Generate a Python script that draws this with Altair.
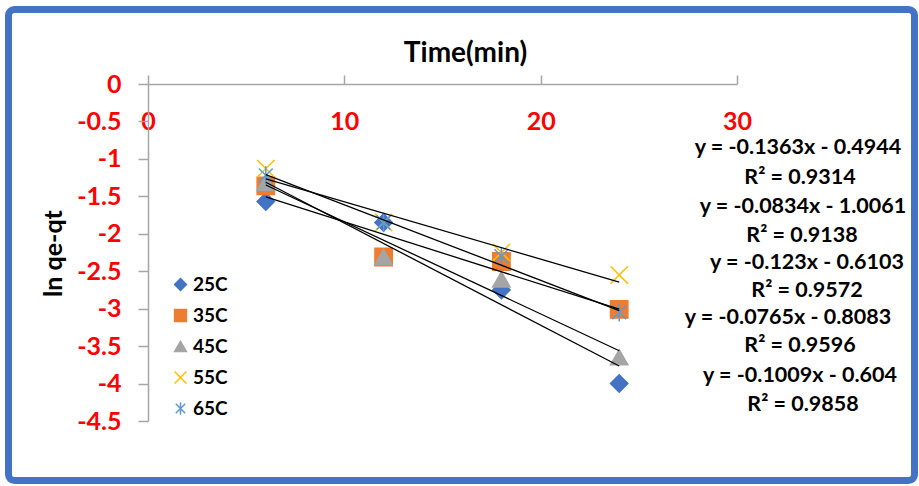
import altair as alt
import pandas as pd

# Sampling times (min) and ln(qe-qt) readings for each temperature
times = [6, 12, 18, 24]
series = ["25C", "35C", "45C", "55C", "65C"]
ln_25 = [-1.57, -1.85, -2.75, -4.00]
ln_35 = [-1.36, -2.31, -2.37, -3.01]
ln_45 = [-1.32, -2.31, -2.61, -3.65]
ln_55 = [-1.13, -1.85, -2.25, -2.55]
ln_65 = [-1.22, -1.85, -2.30, -3.05]

# Linear trendline coefficients and fit quality for each temperature
slopes = [-0.1363, -0.0834, -0.123, -0.0765, -0.1009]
intercepts = [-0.4944, -1.0061, -0.6103, -0.8083, -0.604]
r_squared = [0.9314, 0.9138, 0.9572, 0.9596, 0.9858]

x_ticks = [0, 10, 20, 30]
y_ticks = [0, -0.5, -1, -1.5, -2, -2.5, -3, -3.5, -4, -4.5]

fill_colors = ["#4472C4", "#ED7D31", "#A5A5A5", "transparent", "transparent"]
stroke_colors = ["#4472C4", "#ED7D31", "#A5A5A5", "#FFC000", "#5B9BD5"]
shapes = [
    "diamond",
    "square",
    "triangle-up",
    "M-1,-1L1,1M-1,1L1,-1",
    "M-0.8,-0.8L0.8,0.8M-0.8,0.8L0.8,-0.8M0,-1.05L0,1.05",
]

FONT = "Lato"
PLOT_LEFT, PLOT_TOP = 148, 84
W, H = 589, 337

points = pd.DataFrame(
    [
        {"series": s, "time": t, "lnq": v}
        for s, vals in zip(series, [ln_25, ln_35, ln_45, ln_55, ln_65])
        for t, v in zip(times, vals)
    ]
)

fits = pd.DataFrame(
    [
        {"series": s, "time": t, "slope": m, "intercept": b}
        for s, m, b in zip(series, slopes, intercepts)
        for t in (times[0], times[-1])
    ]
)

x_axis = alt.Axis(
    orient="top",
    values=x_ticks,
    title="Time(min)",
    titleFont=FONT,
    titleFontSize=28,
    titleFontWeight="bold",
    titleColor="black",
    titleX=317,
    titleY=-31,
    titleBaseline="middle",
    titleAlign="center",
    labelFont=FONT,
    labelFontSize=25,
    labelFontWeight="bold",
    labelColor="#FF0000",
    labelFlush=False,
    labelBaseline="middle",
    labelPadding=-46,
    labelExpr="'' + datum.value",
    tickSize=9,
    tickColor="#A6A6A6",
    tickWidth=1.5,
    domainColor="#A6A6A6",
    domainWidth=1.5,
    grid=False,
)

y_axis = alt.Axis(
    orient="left",
    values=y_ticks,
    title="ln qe-qt",
    titleFont=FONT,
    titleFontSize=25,
    titleFontWeight="bold",
    titleColor="black",
    titleAngle=270,
    titleX=-95,
    titleY=169,
    titleBaseline="middle",
    titleAlign="center",
    labelFont=FONT,
    labelFontSize=25,
    labelFontWeight="bold",
    labelColor="#FF0000",
    labelFlush=False,
    labelPadding=17,
    labelExpr="'' + datum.value",
    tickSize=10,
    tickColor="#A6A6A6",
    tickWidth=1.5,
    domainColor="#A6A6A6",
    domainWidth=1.5,
    grid=False,
)

x_enc = alt.X("time:Q", scale=alt.Scale(domain=[0, 30], nice=False, zero=False), axis=x_axis)

markers = alt.Chart(points).mark_point(size=300, strokeWidth=1.5, opacity=1).encode(
    x=x_enc,
    y=alt.Y("lnq:Q", scale=alt.Scale(domain=[-4.5, 0], nice=False), axis=y_axis),
    shape=alt.Shape("series:N", scale=alt.Scale(domain=series, range=shapes)),
    fill=alt.Fill("series:N", scale=alt.Scale(domain=series, range=fill_colors)),
    stroke=alt.Stroke("series:N", scale=alt.Scale(domain=series, range=stroke_colors)),
)

trendlines = (
    alt.Chart(fits)
    .transform_calculate(fit="datum.slope * datum.time + datum.intercept")
    .mark_line(color="black", strokeWidth=1.3)
    .encode(
        x=x_enc,
        y=alt.Y("fit:Q", scale=alt.Scale(domain=[-4.5, 0], nice=False), axis=y_axis),
        detail="series:N",
    )
)

# Trendline equation labels stacked down the right margin
eq_labels = []
for m, b, r2 in zip(slopes, intercepts, r_squared):
    eq_labels.append(f"y = {m}x - {abs(b)}")
    eq_labels.append(f"R\u00b2 = {r2}")
eq_centers = [
    (798, 148), (800, 178), (803, 207), (802, 236), (807, 263),
    (807, 291), (788, 318), (800, 346), (800, 376), (803, 405),
]
one_row = pd.DataFrame({"k": [0]})
eq_layers = [
    alt.Chart(one_row)
    .mark_text(
        text=txt,
        font=FONT,
        fontSize=21.5,
        fontWeight="bold",
        color="black",
        align="center",
        baseline="middle",
    )
    .encode(x=alt.value(cx - PLOT_LEFT), y=alt.value(cy - PLOT_TOP))
    for txt, (cx, cy) in zip(eq_labels, eq_centers)
]

# Rounded blue frame around the whole figure
frame = (
    alt.Chart(one_row)
    .mark_rect(fill="transparent", stroke="#4472C4", strokeWidth=7, cornerRadius=6)
    .encode(
        x=alt.value(8.5 - PLOT_LEFT),
        x2=alt.value(914.5 - PLOT_LEFT),
        y=alt.value(9.5 - PLOT_TOP),
        y2=alt.value(480.5 - PLOT_TOP),
    )
)

chart = (
    alt.layer(markers, trendlines, *eq_layers, frame)
    .properties(
        width=W,
        height=H,
        autosize="none",
        padding={"left": PLOT_LEFT, "top": PLOT_TOP, "right": 919 - PLOT_LEFT - W, "bottom": 486 - PLOT_TOP - H},
        background="white",
    )
    .configure_view(strokeWidth=0)
    .configure_legend(
        orient="none",
        legendX=23,
        legendY=191,
        title=None,
        padding=0,
        symbolSize=140,
        symbolStrokeWidth=1.5,
        labelFont=FONT,
        labelFontSize=19,
        labelFontWeight="bold",
        labelColor="black",
        labelOffset=3,
        rowPadding=11,
    )
)

chart.save("out.html", embed_options={"renderer": "svg", "actions": False})
